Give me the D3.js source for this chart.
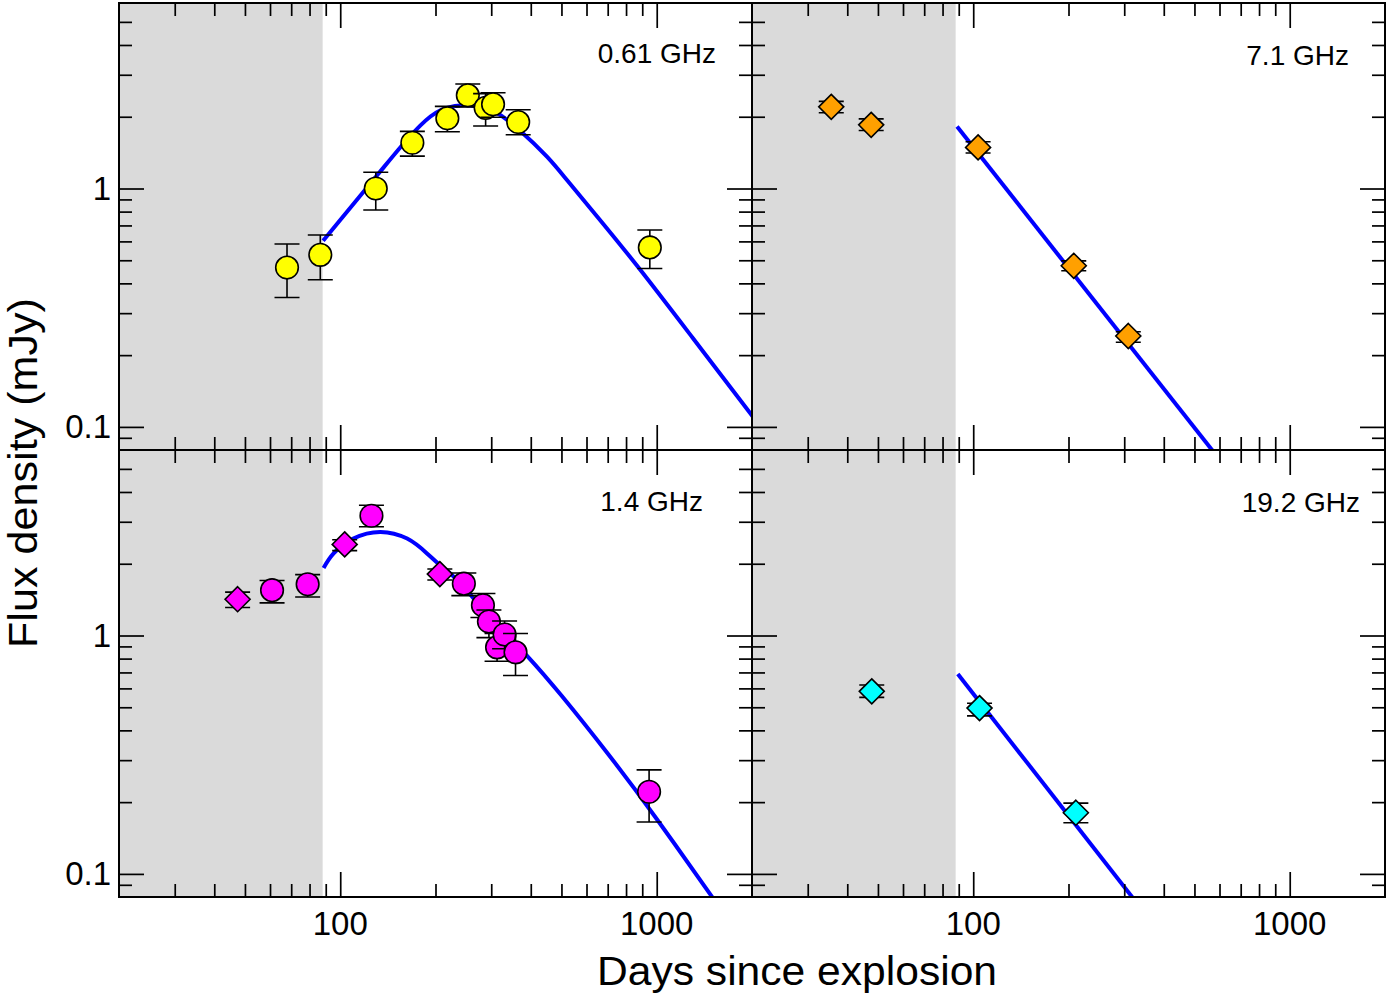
<!DOCTYPE html>
<html>
<head>
<meta charset="utf-8">
<script src="https://cdn.jsdelivr.net/npm/d3@7"></script>
<style>
  body { margin: 0; background: #fff; }
  text { font-family: "Liberation Sans", Arial, Helvetica, sans-serif; fill: #000; }
</style>
</head>
<body>
<svg width="1390" height="1000"></svg>
<script>

// ---- data ----
var bandLabels = ["0.61 GHz", "7.1 GHz", "1.4 GHz", "19.2 GHz"];
var bandColors = ["#ffff00", "#ffa000", "#ff00ff", "#00ffff"];

var days061 = [67.9, 86.5, 129.5, 169, 218, 253, 288, 304, 365, 951];
var flux061 = [0.466, 0.527, 1.0, 1.556, 1.97, 2.46, 2.18, 2.255, 1.90, 0.566];
var lo061   = [0.349, 0.414, 0.813, 1.367, 1.73, 2.20, 1.83, 1.99, 1.68, 0.462];
var hi061   = [0.585, 0.638, 1.17, 1.736, 2.21, 2.745, 2.50, 2.52, 2.14, 0.67];
var shape061 = ["circle", "circle", "circle", "circle", "circle", "circle", "circle", "circle", "circle", "circle"];

var days71 = [35.6, 47.6, 103.6, 207.8, 309];
var flux71 = [2.20, 1.85, 1.487, 0.474, 0.2406];
var lo71   = [2.08, 1.75, 1.41, 0.452, 0.2265];
var hi71   = [2.32, 1.96, 1.57, 0.497, 0.2507];
var shape71 = ["diamond", "diamond", "diamond", "diamond", "diamond"];

var days14 = [47.4, 60.9, 78.9, 103.3, 125.5, 206.4, 245.8, 282.4, 295, 313, 330.6, 358, 946];
var flux14 = [1.42, 1.55, 1.64, 2.41, 3.18, 1.81, 1.65, 1.34, 1.145, 0.892, 1.01, 0.85, 0.221];
var lo14   = [1.31, 1.37, 1.45, 2.27, 2.86, 1.71, 1.47, 1.19, 0.98, 0.78, 0.88, 0.68, 0.165];
var hi14   = [1.52, 1.70, 1.80, 2.52, 3.52, 1.90, 1.83, 1.50, 1.28, 1.02, 1.15, 1.02, 0.273];
var shape14 = ["diamond", "circle", "circle", "diamond", "circle", "diamond", "circle",
               "circle", "circle", "circle", "circle", "circle", "circle"];

var days192 = [47.8, 104.7, 211];
var flux192 = [0.583, 0.496, 0.1806];
var lo192   = [0.55, 0.46, 0.164];
var hi192   = [0.62, 0.52, 0.198];
var shape192 = ["diamond", "diamond", "diamond"];

// model curves (blue)
var fitDays061 = [88.3, 131.8, 155, 179.3, 207.4, 240, 267.6, 298.6, 321, 371.6, 450, 522, 650, 877, 1300, 1986, 2100];
var fitFlux061 = [0.604, 1.15, 1.49, 1.84, 2.13, 2.23, 2.21, 2.13, 2.03, 1.74, 1.36, 1.08, 0.76, 0.465, 0.236, 0.113, 0.102];
var fitDays71 = [88.9, 600];
var fitFlux71 = [1.82, 0.073];
var fitDays14 = [88.6, 95.3, 110, 134, 162.7, 188, 212.5, 228.6, 300, 390, 500, 700, 1000, 1492, 1600];
var fitFlux14 = [1.92, 2.21, 2.55, 2.72, 2.55, 2.21, 1.91, 1.76, 1.19, 0.82, 0.56, 0.32, 0.17, 0.0805, 0.071];
var fitDays192 = [89.4, 330];
var fitFlux192 = [0.69, 0.075];

var shadeEnd = 88;               // shaded interval: days 20-88
var xTicksMajor = [100, 1000];
var xTicksMinor = [30, 40, 50, 60, 70, 80, 90, 200, 300, 400, 500, 600, 700, 800, 900];
var yTicksMajor = [0.1, 1];
var yTickLabels = ["0.1", "1"];
var yTicksMinor = [0.09, 0.2, 0.3, 0.4, 0.5, 0.6, 0.7, 0.8, 0.9, 2, 3, 4, 5];

// ---- layout ----
var svg = d3.select("svg");
var colX = [[119, 752], [752, 1385]];
var rowY = [[3, 450], [450, 897]];

var panels = [
  { col: 0, row: 0, days: days061, flux: flux061, lo: lo061, hi: hi061, shape: shape061,
    fitD: fitDays061, fitF: fitFlux061, color: bandColors[0], label: bandLabels[0], lx: 716, ly: 63 },
  { col: 1, row: 0, days: days71, flux: flux71, lo: lo71, hi: hi71, shape: shape71,
    fitD: fitDays71, fitF: fitFlux71, color: bandColors[1], label: bandLabels[1], lx: 1349, ly: 65 },
  { col: 0, row: 1, days: days14, flux: flux14, lo: lo14, hi: hi14, shape: shape14,
    fitD: fitDays14, fitF: fitFlux14, color: bandColors[2], label: bandLabels[2], lx: 703, ly: 511 },
  { col: 1, row: 1, days: days192, flux: flux192, lo: lo192, hi: hi192, shape: shape192,
    fitD: fitDays192, fitF: fitFlux192, color: bandColors[3], label: bandLabels[3], lx: 1360, ly: 512 }
];

var diamond = "M0,-12.5L12.5,0L0,12.5L-12.5,0Z";

panels.forEach(function(p, i) {
  var x = d3.scaleLog().domain([20, 2000]).range(colX[p.col]);
  var y = d3.scaleLog().domain([0.08, 6]).range([rowY[p.row][1], rowY[p.row][0]]);
  var g = svg.append("g");

  // shaded early-time region
  g.append("rect")
      .attr("x", x(20))
      .attr("y", y(6))
      .attr("width", x(shadeEnd) - x(20))
      .attr("height", y(0.08) - y(6))
      .attr("fill", "#dadada");

  svg.append("clipPath").attr("id", "clip" + i)
    .append("rect")
      .attr("x", x(20)).attr("y", y(6))
      .attr("width", x(2000) - x(20)).attr("height", y(0.08) - y(6));

  var line = d3.line()
      .x(function(d) { return x(d[0]); })
      .y(function(d) { return y(d[1]); })
      .curve(d3.curveNatural);

  g.append("path")
      .datum(p.fitD.map(function(d, j) { return [d, p.fitF[j]]; }))
      .attr("clip-path", "url(#clip" + i + ")")
      .attr("fill", "none")
      .attr("stroke", "#0000ff")
      .attr("stroke-width", 4)
      .attr("d", line);

  // ticks, all pointing inward
  function ticks(axis, vals, size, tr) {
    g.append("g")
        .attr("transform", tr)
        .call(axis.tickValues(vals).tickSize(size).tickFormat(function() { return ""; }))
      .call(function(s) { s.select(".domain").remove(); })
      .selectAll("line").attr("stroke", "#000").attr("stroke-width", 1.7);
  }
  var top = y(6), bot = y(0.08), left = x(20), right = x(2000);
  [[xTicksMajor, 25], [xTicksMinor, 13]].forEach(function(t) {
    ticks(d3.axisTop(x), t[0], t[1], "translate(0," + bot + ")");
    ticks(d3.axisBottom(x), t[0], t[1], "translate(0," + top + ")");
  });
  [[yTicksMajor, 25], [yTicksMinor, 13]].forEach(function(t) {
    ticks(d3.axisRight(y), t[0], t[1], "translate(" + left + ",0)");
    ticks(d3.axisLeft(y), t[0], t[1], "translate(" + right + ",0)");
  });

  // frame
  g.append("rect")
      .attr("x", left).attr("y", top)
      .attr("width", right - left).attr("height", bot - top)
      .attr("fill", "none").attr("stroke", "#000").attr("stroke-width", 2);

  // data points with error bars
  var pts = g.selectAll(".pt")
    .data(p.days.map(function(d, j) {
      return { d: d, f: p.flux[j], lo: p.lo[j], hi: p.hi[j], shape: p.shape[j] };
    }))
    .enter().append("g")
      .attr("class", "pt")
      .attr("transform", function(d) { return "translate(" + x(d.d) + ",0)"; });

  pts.append("path")
      .attr("fill", "none")
      .attr("stroke", "#000")
      .attr("stroke-width", 1.6)
      .attr("d", function(d) {
        return "M-12.5," + y(d.hi) + "H12.5M0," + y(d.hi) + "V" + y(d.lo) +
               "M-12.5," + y(d.lo) + "H12.5";
      });

  pts.each(function(d) {
    var s = d3.select(this);
    if (d.shape === "circle") {
      s.append("circle").attr("cy", y(d.f)).attr("r", 11.3);
    } else {
      s.append("path").attr("d", diamond).attr("transform", "translate(0," + y(d.f) + ")");
    }
    s.select(":last-child")
        .attr("fill", p.color)
        .attr("stroke", "#000")
        .attr("stroke-width", 1.6);
  });

  // band label
  svg.append("text")
      .attr("x", p.lx)
      .attr("y", p.ly)
      .attr("text-anchor", "end")
      .attr("font-size", 28)
      .text(p.label);

  // tick labels
  if (p.row === 1) {
    xTicksMajor.forEach(function(v) {
      svg.append("text")
          .attr("x", x(v)).attr("y", 935)
          .attr("text-anchor", "middle")
          .attr("font-size", 33)
          .text(v);
    });
  }
  if (p.col === 0) {
    yTicksMajor.forEach(function(v, k) {
      svg.append("text")
          .attr("x", 111).attr("y", y(v))
          .attr("dy", "0.35em")
          .attr("text-anchor", "end")
          .attr("font-size", 33)
          .text(yTickLabels[k]);
    });
  }
});

// axis titles
svg.append("text")
    .attr("x", 797).attr("y", 985)
    .attr("text-anchor", "middle")
    .attr("font-size", 40)
    .attr("textLength", 400)
    .attr("lengthAdjust", "spacingAndGlyphs")
    .text("Days since explosion");

svg.append("text")
    .attr("transform", "translate(37,473) rotate(-90)")
    .attr("text-anchor", "middle")
    .attr("font-size", 40)
    .attr("textLength", 350)
    .attr("lengthAdjust", "spacingAndGlyphs")
    .text("Flux density (mJy)");

</script>
</body>
</html>
